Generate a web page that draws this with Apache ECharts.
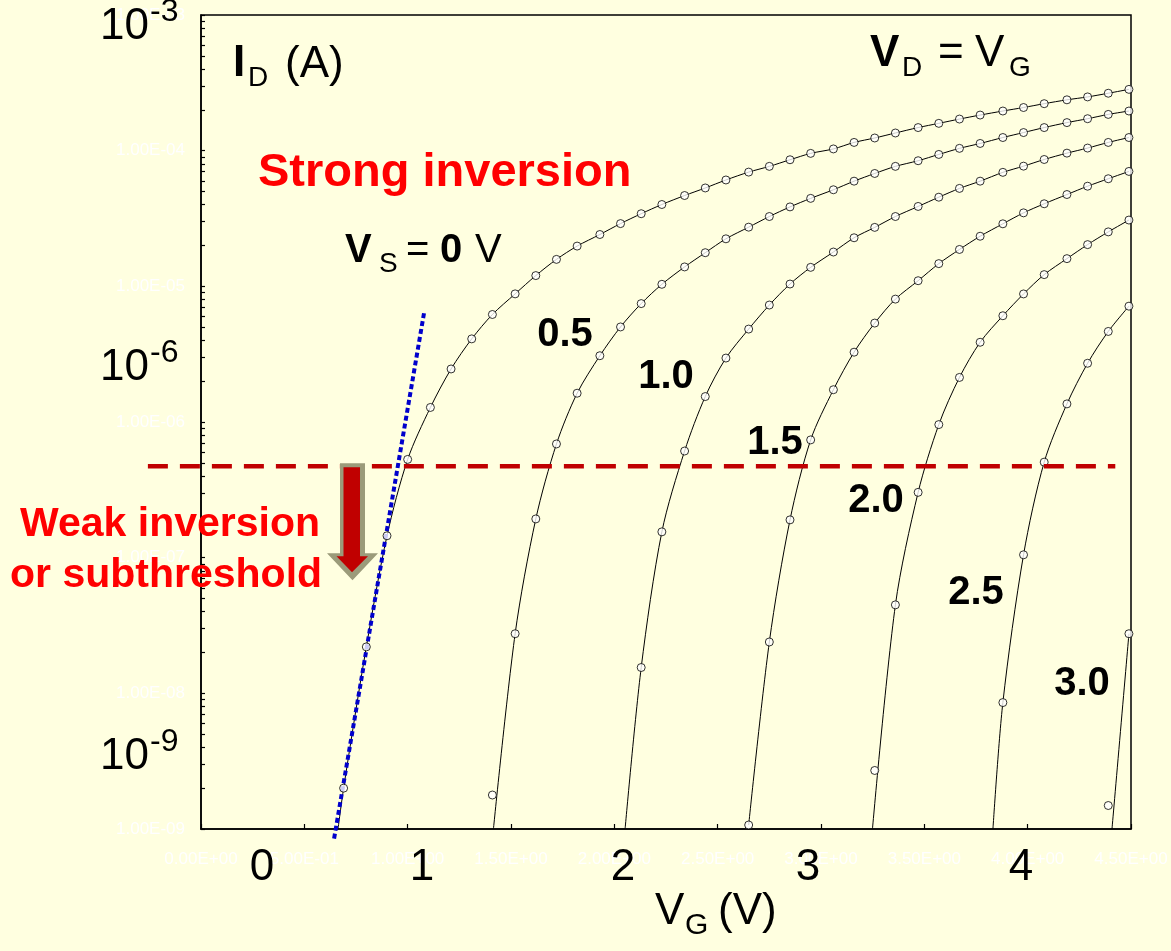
<!DOCTYPE html>
<html>
<head>
<meta charset="utf-8">
<script src="https://cdn.jsdelivr.net/npm/echarts@6.0.0/dist/echarts.min.js"></script>
<style>
html, body { margin: 0; padding: 0; background: #FFFFE0; }
#main { width: 1171px; height: 951px; }
</style>
</head>
<body>
<div id="main"></div>
<script>
var chart = echarts.init(document.getElementById('main'));

var vgMeas = [0.69, 0.80, 0.90, 1.00, 1.11, 1.21, 1.31, 1.41, 1.52, 1.62,
    1.72, 1.82, 1.93, 2.03, 2.13, 2.23, 2.34, 2.44, 2.54, 2.65,
    2.75, 2.85, 2.95, 3.06, 3.16, 3.26, 3.36, 3.47, 3.57, 3.67,
    3.77, 3.88, 3.98, 4.08, 4.19, 4.29, 4.39, 4.49];

// measured drain current (A), one list per source voltage, aligned to the end of vgMeas
var idVs00 = [2.0e-9, 2.2e-8, 1.45e-7, 5.3e-7, 1.28e-6, 2.46e-6, 4.1e-6, 6.2e-6, 8.8e-6, 1.20e-5,
    1.58e-5, 1.98e-5, 2.41e-5, 2.90e-5, 3.43e-5, 4.01e-5, 4.67e-5, 5.31e-5, 6.08e-5, 6.95e-5,
    7.66e-5, 8.57e-5, 9.55e-5, 1.03e-4, 1.15e-4, 1.24e-4, 1.35e-4, 1.48e-4, 1.59e-4, 1.71e-4,
    1.83e-4, 1.96e-4, 2.08e-4, 2.22e-4, 2.37e-4, 2.49e-4, 2.65e-4, 2.83e-4];
var idVs05 = [1.78e-9, 2.75e-8, 1.93e-7, 6.89e-7, 1.63e-6, 3.08e-6, 5.02e-6, 7.46e-6, 1.035e-5, 1.39e-5,
    1.77e-5, 2.24e-5, 2.73e-5, 3.27e-5, 3.85e-5, 4.45e-5, 5.15e-5, 5.96e-5, 6.79e-5, 7.66e-5,
    8.43e-5, 9.38e-5, 1.04e-4, 1.13e-4, 1.25e-4, 1.36e-4, 1.48e-4, 1.61e-4, 1.72e-4, 1.85e-4,
    1.96e-4];
var idVs10 = [1.55e-8, 1.55e-7, 6.11e-7, 1.54e-6, 2.96e-6, 4.84e-6, 7.28e-6, 1.04e-5, 1.38e-5, 1.79e-5,
    2.28e-5, 2.72e-5, 3.27e-5, 3.88e-5, 4.54e-5, 5.27e-5, 5.96e-5, 6.92e-5, 7.69e-5, 8.61e-5,
    9.59e-5, 1.045e-4, 1.15e-4, 1.25e-4];
var idVs15 = [1.07e-9, 2.39e-8, 1.90e-7, 7.38e-7, 1.73e-6, 3.27e-6, 5.36e-6, 8.05e-6, 1.10e-5, 1.47e-5,
    1.87e-5, 2.34e-5, 2.89e-5, 3.48e-5, 4.06e-5, 4.75e-5, 5.47e-5, 6.21e-5, 7.03e-5];
var idVs20 = [2.70e-9, 4.49e-8, 3.03e-7, 9.57e-7, 2.13e-6, 3.87e-6, 6.07e-6, 8.79e-6, 1.22e-5, 1.60e-5,
    2.03e-5, 2.52e-5, 3.08e-5];
var idVs25 = [8.55e-9, 1.05e-7, 5.06e-7, 1.36e-6, 2.71e-6, 4.65e-6, 7.14e-6];
var idVs30 = [1.49e-9, 2.75e-8];

var curves = [idVs00, idVs05, idVs10, idVs15, idVs20, idVs25, idVs30];
var vsLabels = ['0.5', '1.0', '1.5', '2.0', '2.5', '3.0'];

// where each simulated curve leaves the bottom of the plot (V at 1e-9 A)
var vgFloor = [0.663, 1.415, 2.052, null, 3.249, 3.832, 4.408];
var idFloor = 1e-9;
// leading measured points that sit off the simulated line near the floor
var simSkip = [0, 1, 0, 0, 1, 0, 1];

// subthreshold slope fit (blue dotted) and weak/strong boundary (red dashed)
var fitVg = [0.644, 1.081];
var fitId = [8.5e-10, 6.6e-6];
var thrVg = [-0.257, 4.424];
var thrId = 4.72e-7;

// axis ticks
var xTicks = [0, 0.5, 1, 1.5, 2, 2.5, 3, 3.5, 4, 4.5];
var yDecades = [-9, -8, -7, -6, -5, -4, -3];
var yMantissas = [1, 2, 3, 4, 5, 6, 7, 8, 9];
var yLabelValues = yDecades.map(function (d) { return Number('1e' + d); });
var yTickValues = [];
yDecades.forEach(function (d) {
    yMantissas.forEach(function (m) {
        if (d < -3 || m === 1) yTickValues.push(Number(m + 'e' + d));
    });
});

// big overlay labels from the slide
var bigXLabels = ['0', '1', '2', '3', '4'];
var bigXPos = [262, 422, 623, 808, 1021];
var bigYExp = ['-3', '-6', '-9'];
var bigYPos = [27, 368, 757];

var FONT = '"Liberation Sans", Arial, sans-serif';

function sci(v) {
    if (v === 0) return '0.00E+00';
    var e = Math.floor(Math.log10(Math.abs(v)) + 1e-9);
    var m = v / Math.pow(10, e);
    var ae = Math.abs(e);
    return m.toFixed(2) + 'E' + (e < 0 ? '-' : '+') + (ae < 10 ? '0' : '') + ae;
}

function measPairs(arr) {
    var off = vgMeas.length - arr.length;
    return arr.map(function (v, i) { return [vgMeas[off + i], v]; });
}

function txt(s, x, y, size, weight, color, align) {
    return {
        type: 'text', x: x, y: y, z: 100,
        style: {
            text: s,
            font: (weight || 'normal') + ' ' + size + 'px ' + FONT,
            fill: color || '#000',
            textAlign: align || 'left', align: align || 'left',
            textVerticalAlign: 'middle', verticalAlign: 'middle'
        }
    };
}

var series = [];
curves.forEach(function (arr, i) {
    var sim = measPairs(arr).slice(simSkip[i]);
    if (vgFloor[i] !== null) sim.unshift([vgFloor[i], idFloor]);
    series.push({
        type: 'line', data: sim, symbol: 'none', smooth: 0.3, z: 2,
        lineStyle: { color: '#000', width: 1 }, silent: true
    });
});
series.push({
    type: 'line', data: [[fitVg[0], fitId[0]], [fitVg[1], fitId[1]]], symbol: 'none', clip: false, z: 4,
    lineStyle: { color: '#0000CC', width: 4, type: [5, 3] }
});
curves.forEach(function (arr) {
    series.push({
        type: 'scatter', data: measPairs(arr), symbol: 'circle', symbolSize: 8, z: 5,
        itemStyle: { color: '#fff', borderColor: '#000', borderWidth: 1 }
    });
});

var graphics = [];
bigXLabels.forEach(function (s, i) { graphics.push(txt(s, bigXPos[i], 868, 44, 'normal', '#000', 'center')); });
bigYExp.forEach(function (s, i) {
    graphics.push(txt('10', 100, bigYPos[i], 44));
    graphics.push(txt(s, 150, bigYPos[i] - 15, 32));
});
graphics.push(txt('V', 655, 912, 44), txt('G', 685, 926, 30), txt('(V)', 718, 912, 44));
graphics.push(txt('I', 233, 64, 44, 'bold'), txt('D', 248, 78, 28), txt('(A)', 285, 65, 44));
graphics.push(txt('V', 870, 54, 44, 'bold'), txt('D', 902, 68, 28), txt('=', 938, 54, 44),
    txt('V', 975, 54, 44), txt('G', 1009, 68, 28));
graphics.push(txt('Strong inversion', 258, 173, 47, 'bold', '#FF0000'));
graphics.push(txt('V', 345, 251, 40, 'bold'), txt('S', 379, 264, 28), txt('=', 406, 251, 40),
    txt('0', 440, 251, 40, 'bold'), txt('V', 475, 251, 40));
graphics.push(txt('Weak inversion', 20, 525, 41, 'bold', '#FF0000'));
graphics.push(txt('or subthreshold', 10, 576, 41, 'bold', '#FF0000'));
var lblPos = [[565, 335], [666, 377], [775, 443], [876, 501], [976, 593], [1082, 684]];
vsLabels.forEach(function (s, i) { graphics.push(txt(s, lblPos[i][0], lblPos[i][1], 40, 'bold', '#000', 'center')); });

var option = {
    backgroundColor: '#FFFFE0',
    animation: false,
    textStyle: { fontFamily: FONT },
    grid: {
        left: 201, top: 15, width: 930, height: 814,
        show: true, borderColor: '#000', borderWidth: 1.5,
        containLabel: false, outerBoundsMode: 'none'
    },
    xAxis: {
        type: 'value', min: 0, max: 4.5, interval: 0.5,
        axisLine: { lineStyle: { color: '#000', width: 1.5 } },
        axisTick: { inside: true, length: 5, lineStyle: { color: '#000', width: 1.2 } },
        axisLabel: { formatter: sci, color: '#FFFFFF', fontSize: 17, margin: 22, fontFamily: FONT },
        splitLine: { show: false }
    },
    yAxis: {
        type: 'log', logBase: 10, min: 1e-9, max: 1e-3,
        axisLine: { show: true, lineStyle: { color: '#000', width: 1.5 } },
        axisTick: { show: true, inside: true, length: 4, customValues: yTickValues,
            lineStyle: { color: '#000', width: 1.2 } },
        axisLabel: { customValues: yLabelValues, formatter: sci, color: '#FFFFFF', fontSize: 17,
            margin: 16, fontFamily: FONT },
        splitLine: { show: false }
    },
    series: series
};
chart.setOption(option);

// boundary line and arrow, placed from the data values
var x0 = chart.convertToPixel({ xAxisIndex: 0 }, xTicks[0]);
var x1 = chart.convertToPixel({ xAxisIndex: 0 }, xTicks[xTicks.length - 1]);
function xPix(v) { return x0 + (v - xTicks[0]) * (x1 - x0) / (xTicks[xTicks.length - 1] - xTicks[0]); }
var yThr = chart.convertToPixel({ yAxisIndex: 0 }, thrId);
graphics.push({
    type: 'line', z: 80,
    shape: { x1: xPix(thrVg[0]), y1: yThr, x2: xPix(thrVg[1]), y2: yThr },
    style: { stroke: '#C00000', lineWidth: 4.5, lineDash: [20, 12] }
});
graphics.push({
    type: 'polygon', z: 90,
    shape: { points: [[340, yThr - 3], [365, yThr - 3], [365, yThr + 87], [378, yThr + 87],
        [352.5, yThr + 114], [327, yThr + 87], [340, yThr + 87]] },
    style: { fill: '#9B9B7A' }
});
graphics.push({
    type: 'polygon', z: 91,
    shape: { points: [[343.5, yThr + 1], [360, yThr + 1], [360, yThr + 90], [368, yThr + 90],
        [352, yThr + 106], [336.5, yThr + 90], [343.5, yThr + 90]] },
    style: { fill: '#C00000' }
});
chart.setOption({ graphic: { elements: graphics } });
</script>
</body>
</html>
